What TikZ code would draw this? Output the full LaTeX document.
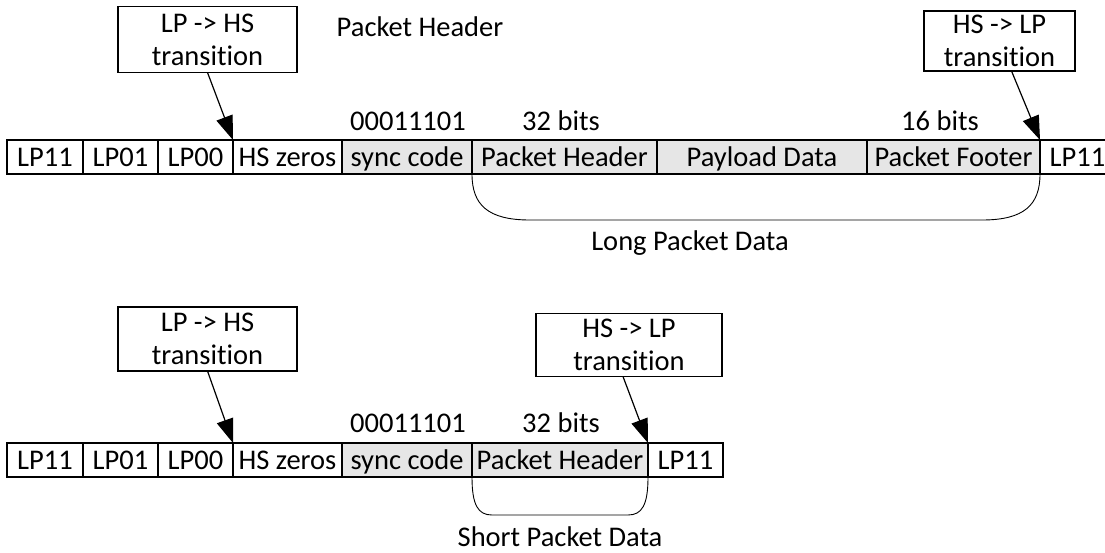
\documentclass[tikz,border=0pt]{standalone}
\usepackage{fontspec}
\setmainfont{Carlito}[Ligatures={NoCommon}]
\usetikzlibrary{arrows.meta}
\definecolor{cellgray}{RGB}{230,230,230}
\begin{document}
\begin{tikzpicture}[x=1pt,y=-1pt,
  txt/.style={font=\fontsize{28.5}{33}\selectfont},
  fixh/.style={text height=21pt, text depth=2.6pt},
  cell/.style={txt, fixh, draw, line width=1.2pt, minimum height=34pt, inner sep=0pt, outer sep=0pt, anchor=north west},
  gcell/.style={cell, fill=cellgray},
  tbox/.style={txt, draw, line width=1.2pt, align=center, inner sep=0pt, outer sep=0pt},
  lbl/.style={txt, fixh, inner sep=0pt},
  arr/.style={line width=1.2pt, -{Triangle[length=24pt,width=17pt]}},
  bracestyle/.style={line width=0.9pt}
]
\useasboundingbox (0,0) rectangle (1105,552);

% ---------- top row (long packet) ----------
\node[cell, minimum width=76pt]  (t1) at (7,140)   {LP11};
\node[cell, minimum width=75pt]  (t2) at (83,140)  {LP01};
\node[cell, minimum width=75pt]  (t3) at (158,140) {LP00};
\node[cell, minimum width=109pt] (t4) at (233,140) {HS zeros};
\node[gcell, minimum width=130pt] (t5) at (342,140) {sync code};
\node[gcell, minimum width=185pt] (t6) at (472,140) {Packet Header};
\node[gcell, minimum width=210pt] (t7) at (657,140) {Payload Data};
\node[gcell, minimum width=173pt] (t8) at (867,140) {Packet Footer};
\node[cell, minimum width=75pt]  (t9) at (1040,140) {LP11};

\node[tbox, minimum width=179pt, minimum height=66pt] (lph1) at (207.5,39.5) {LP -> HS\\transition};
\node[tbox, minimum width=151pt, minimum height=60pt] (hsl1) at (999.5,41) {HS -> LP\\transition};

\node[lbl] (phlabel) at (420,27) {Packet Header};
\node[lbl] (sync1) at (408,121) {00011101};
\node[lbl] (bits32a) at (561,121) {32 bits};
\node[lbl] (bits16) at (940,121) {16 bits};

\draw[arr] (lph1.south) -- (t3.north east);
\draw[arr] ([xshift=12pt]hsl1.south) -- (t8.north east);

\draw[bracestyle] (t6.south west) .. controls (472,205) and (488,220) .. (530,220)
  -- (982,220) .. controls (1024,220) and (1040,205) .. (t8.south east);
\node[lbl] (longlbl) at (690,241) {Long Packet Data};

% ---------- bottom row (short packet) ----------
\node[cell, minimum width=76pt]  (b1) at (7,443)   {LP11};
\node[cell, minimum width=75pt]  (b2) at (83,443)  {LP01};
\node[cell, minimum width=75pt]  (b3) at (158,443) {LP00};
\node[cell, minimum width=109pt] (b4) at (233,443) {HS zeros};
\node[gcell, minimum width=130pt] (b5) at (342,443) {sync code};
\node[gcell, minimum width=176pt] (b6) at (472,443) {Packet Header};
\node[cell, minimum width=75pt]  (b7) at (648,443) {LP11};

\node[tbox, minimum width=179pt, minimum height=64pt] (lph2) at (207.5,339) {LP -> HS\\transition};
\node[tbox, minimum width=186pt, minimum height=63pt] (hsl2) at (629,345) {HS -> LP\\transition};

\node[lbl] (sync2) at (408,423) {00011101};
\node[lbl] (bits32b) at (561,423) {32 bits};

\draw[arr] (lph2.south) -- (b3.north east);
\draw[arr] ([xshift=-6pt]hsl2.south) -- (b6.north east);

\draw[bracestyle] (b6.south west) .. controls (472,505) and (478,515) .. (492,515)
  -- (628,515) .. controls (642,515) and (648,505) .. (b6.south east);
\node[lbl] (shortlbl) at (560,537) {Short Packet Data};
\end{tikzpicture}
\end{document}
